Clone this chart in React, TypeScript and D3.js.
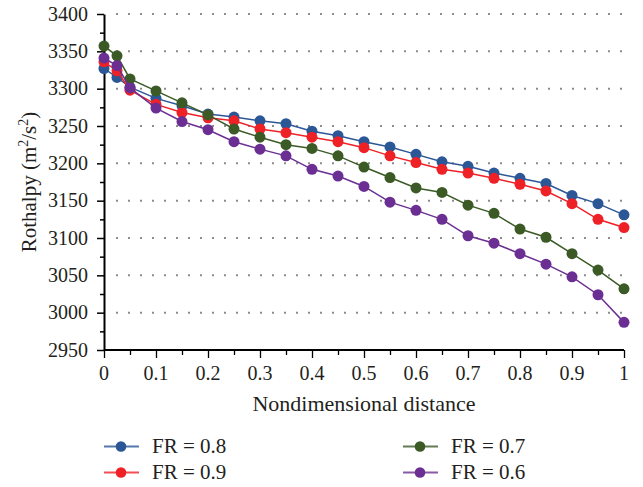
import React, { useEffect, useRef } from "react";
import * as d3 from "d3";

const width = 643;
const height = 487;
const margin = { top: 14, right: 19, bottom: 137, left: 104 };

const xValues = [0, 0.025, 0.05, 0.1, 0.15, 0.2, 0.25, 0.3, 0.35, 0.4, 0.45, 0.5, 0.55, 0.6, 0.65, 0.7, 0.75, 0.8, 0.85, 0.9, 0.95, 1];

const fr08 = [3327, 3315, 3302, 3287, 3277, 3266, 3262, 3257, 3253, 3243, 3237, 3229, 3222, 3212, 3202, 3196, 3187, 3180, 3173, 3157, 3146, 3131];
const fr09 = [3336, 3324, 3298, 3279, 3268, 3261, 3257, 3246, 3241, 3235, 3229, 3221, 3210, 3201, 3192, 3187, 3180, 3172, 3163, 3146, 3125, 3114];
const fr07 = [3357, 3344, 3313, 3297, 3281, 3265, 3246, 3235, 3225, 3220, 3210, 3195, 3181, 3167, 3161, 3144, 3133, 3112, 3101, 3079, 3057, 3032];
const fr06 = [3341, 3331, 3301, 3274, 3256, 3245, 3229, 3219, 3210, 3192, 3183, 3169, 3148, 3137, 3125, 3103, 3093, 3079, 3065, 3048, 3024, 2987];

const series = [
  { name: "FR = 0.8", values: fr08, color: "#2b5797" },
  { name: "FR = 0.9", values: fr09, color: "#ee2127" },
  { name: "FR = 0.7", values: fr07, color: "#3b5a26" },
  { name: "FR = 0.6", values: fr06, color: "#6b2f93" },
];

// legend is laid out in two columns, filled top to bottom
const legendOrder = ["FR = 0.8", "FR = 0.9", "FR = 0.7", "FR = 0.6"];

const yTicks = d3.range(2950, 3401, 50);
const xTicks = d3.range(0, 1.0001, 0.1);
const font = "'Liberation Serif', 'Times New Roman', serif";
const textColor = "#231f20";

const App = () => {
  const ref = useRef<SVGSVGElement>(null);

  useEffect(() => {
    if (!ref.current) return;
    const svg = d3.select(ref.current);
    svg.selectAll("*").remove();

    const x = d3.scaleLinear().domain([0, 1]).range([margin.left, width - margin.right]);
    const y = d3.scaleLinear().domain([2950, 3400]).range([height - margin.bottom, margin.top]);

    // dotted grid
    svg
      .append("g")
      .selectAll("line")
      .data(yTicks.slice(1))
      .join("line")
      .attr("x1", x(0) + 12)
      .attr("x2", x(1))
      .attr("y1", (d) => y(d))
      .attr("y2", (d) => y(d))
      .attr("stroke", "#8c8c8c")
      .attr("stroke-width", 2)
      .attr("stroke-dasharray", "2,10");

    // y axis
    const yAxis = svg.append("g").attr("transform", `translate(${x(0)},0)`);
    yAxis
      .call(
        d3
          .axisLeft(y)
          .tickValues(d3.range(2950, 3401, 25))
          .tickSize(0)
          .tickFormat(() => "")
      )
      .call((g) => g.select(".domain").attr("stroke", "#000").attr("stroke-width", 2));
    yAxis
      .selectAll(".tick line")
      .attr("x2", (d: any) => (d % 50 === 0 ? -7 : -4))
      .attr("stroke", "#000")
      .attr("stroke-width", 1.5);
    yAxis
      .append("g")
      .selectAll("text")
      .data(yTicks)
      .join("text")
      .attr("x", -16)
      .attr("y", (d) => y(d))
      .attr("dy", "0.34em")
      .attr("text-anchor", "end")
      .attr("font-family", font)
      .attr("font-size", 20)
      .attr("fill", textColor)
      .text((d) => d);

    // x axis
    const xAxis = svg.append("g").attr("transform", `translate(0,${y(2950)})`);
    xAxis
      .call(
        d3
          .axisBottom(x)
          .tickValues(d3.range(0, 1.0001, 0.05))
          .tickSize(6)
          .tickFormat(() => "")
      )
      .call((g) => g.select(".domain").attr("stroke", "#000").attr("stroke-width", 2).attr("d", `M${x(0)},0H${x(1)}`));
    xAxis
      .selectAll(".tick line")
      .attr("y2", (_, i) => (i % 2 === 0 ? 8 : 5))
      .attr("stroke", "#000")
      .attr("stroke-width", 1.3);
    xAxis
      .append("g")
      .selectAll("text")
      .data(xTicks)
      .join("text")
      .attr("x", (d) => x(d))
      .attr("y", 30)
      .attr("text-anchor", "middle")
      .attr("font-family", font)
      .attr("font-size", 20)
      .attr("fill", textColor)
      .text((d) => d3.format("~g")(+d.toFixed(2)));

    // axis titles
    svg
      .append("text")
      .attr("x", (x(0) + x(1)) / 2)
      .attr("y", 411)
      .attr("text-anchor", "middle")
      .attr("font-family", font)
      .attr("font-size", 22)
      .attr("fill", textColor)
      .text("Nondimensional distance");

    const yTitle = svg
      .append("text")
      .attr("transform", `translate(36,${(y(2950) + y(3400)) / 2}) rotate(-90)`)
      .attr("text-anchor", "middle")
      .attr("font-family", font)
      .attr("font-size", 21)
      .attr("fill", textColor);
    yTitle.append("tspan").text("Rothalpy (m");
    yTitle.append("tspan").attr("dy", -8).attr("font-size", 14).text("2");
    yTitle.append("tspan").attr("dy", 8).text("/s");
    yTitle.append("tspan").attr("dy", -8).attr("font-size", 14).text("2");
    yTitle.append("tspan").attr("dy", 8).text(")");

    // lines and markers
    const line = d3
      .line<number>()
      .x((_, i) => x(xValues[i]))
      .y((d) => y(d));

    const plot = svg.append("g");
    series.forEach((s) => {
      const g = plot.append("g");
      g.append("path")
        .attr("d", line(s.values) as string)
        .attr("fill", "none")
        .attr("stroke", s.color)
        .attr("stroke-width", 1.5);
      g.selectAll("circle")
        .data(s.values)
        .join("circle")
        .attr("cx", (_, i) => x(xValues[i]))
        .attr("cy", (d) => y(d))
        .attr("r", 5.5)
        .attr("fill", s.color);
    });

    // legend
    const legend = svg.append("g");
    legendOrder.forEach((name, i) => {
      const s = series.find((d) => d.name === name)!;
      const col = Math.floor(i / 2);
      const row = i % 2;
      const lx = 104 + col * 299;
      const ly = 446.5 + row * 26;
      const item = legend.append("g").attr("transform", `translate(${lx},${ly})`);
      item
        .append("line")
        .attr("x1", 0)
        .attr("x2", 35)
        .attr("stroke", s.color)
        .attr("stroke-opacity", 0.8)
        .attr("stroke-width", 2);
      item.append("circle").attr("cx", 17).attr("r", 5.3).attr("fill", s.color);
      item
        .append("text")
        .attr("x", 48)
        .attr("dy", "0.33em")
        .attr("font-family", font)
        .attr("font-size", 21)
        .attr("fill", textColor)
        .text(s.name);
    });
  }, []);

  return (
    <svg
      ref={ref}
      width={width}
      height={height}
      style={{ display: "block", position: "absolute", left: 0, top: 0, background: "#fff" }}
    />
  );
};

export default App;
